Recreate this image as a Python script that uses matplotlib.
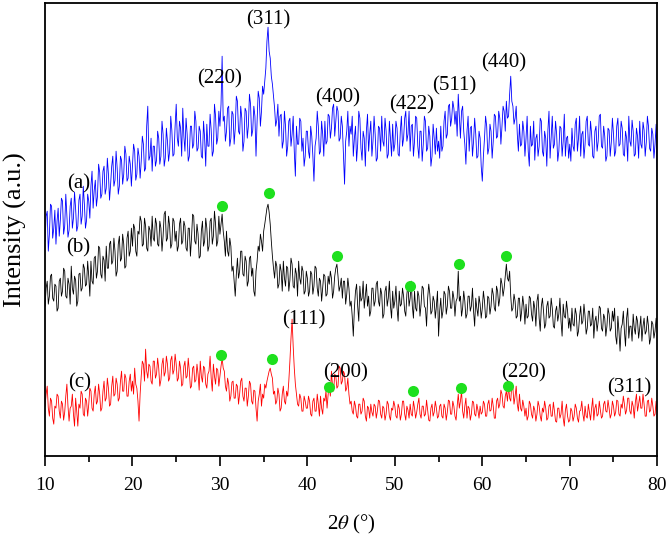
import numpy as np
import matplotlib
matplotlib.use("Agg")
import matplotlib.pyplot as plt
from matplotlib.ticker import MultipleLocator

plt.rcParams['font.family'] = ['Liberation Serif', 'DejaVu Serif']
plt.rcParams['mathtext.fontset'] = 'stix'

# 2-theta sampling: start 10 deg, step 0.125 deg
theta_start = 10.0
theta_step = 0.125

# (a) blue pattern (offset, arbitrary units)
intensity_a = [
    215, 240, 245, 205, 222, 252, 250, 218, 228, 246, 212, 235, 248, 220, 236, 258, 255, 222, 230, 262, 241, 219, 226, 250, 258, 228, 238, 264, 247, 225, 230, 256, 262, 232, 240, 270, 252, 228, 236, 262,
    255, 238, 270, 285, 248, 266, 276, 250, 260, 292, 284, 258, 262, 285, 290, 262, 268, 298, 282, 256, 272, 290, 300, 270, 276, 305, 288, 262, 270, 300, 296, 272, 282, 310, 302, 275, 278, 300, 292, 270,
    290, 312, 305, 276, 282, 308, 300, 278, 295, 320, 312, 285, 288, 330, 350, 296, 300, 318, 285, 310, 310, 290, 296, 325, 318, 292, 300, 335, 322, 290, 298, 328, 315, 295, 305, 340, 326, 300, 302, 330,
    352, 318, 310, 335, 328, 300, 348, 320, 305, 338, 322, 295, 300, 330, 330, 308, 312, 345, 335, 305, 308, 330, 325, 300, 298, 335, 318, 290, 332, 310, 310, 342, 326, 300, 305, 352, 340, 312, 318, 345,
    330, 352, 400, 335, 340, 315, 325, 348, 350, 310, 318, 345, 342, 312, 328, 360, 355, 325, 322, 350, 338, 305, 315, 348, 345, 318, 330, 362, 352, 320, 326, 350, 340, 300, 335, 365, 358, 330, 345, 370,
    362, 375, 388, 415, 429, 405, 398, 380, 372, 360, 348, 330, 336, 352, 320, 340, 342, 308, 315, 345, 330, 300, 310, 335, 338, 310, 322, 340, 305, 280, 330, 312, 312, 338, 335, 305, 318, 290, 300, 325,
    325, 305, 298, 330, 320, 300, 275, 310, 318, 345, 330, 302, 305, 335, 322, 300, 335, 312, 315, 342, 340, 318, 328, 348, 352, 320, 335, 350, 345, 315, 318, 340, 330, 300, 272, 315, 325, 345, 310, 330,
    322, 340, 300, 318, 330, 295, 312, 345, 338, 308, 296, 325, 318, 290, 326, 342, 305, 322, 335, 300, 315, 340, 322, 295, 298, 330, 328, 305, 340, 315, 310, 338, 325, 298, 302, 335, 318, 300, 332, 305,
    312, 335, 328, 302, 300, 325, 340, 310, 318, 338, 345, 315, 322, 345, 305, 330, 332, 300, 315, 340, 338, 310, 298, 325, 325, 295, 312, 340, 335, 305, 308, 330, 320, 290, 300, 332, 318, 302, 328, 305,
    315, 298, 330, 305, 310, 335, 345, 318, 322, 350, 352, 330, 338, 355, 348, 332, 345, 320, 362, 340, 318, 345, 350, 325, 312, 292, 325, 340, 305, 328, 330, 300, 315, 338, 322, 298, 300, 325, 318, 290,
    275, 300, 318, 340, 330, 302, 308, 332, 325, 298, 315, 342, 340, 318, 320, 345, 338, 312, 330, 350, 345, 325, 355, 338, 340, 362, 380, 355, 350, 332, 338, 350, 322, 305, 332, 310, 312, 335, 325, 300,
    318, 340, 305, 290, 330, 310, 312, 335, 296, 318, 322, 300, 310, 338, 335, 305, 300, 325, 318, 290, 326, 345, 298, 320, 340, 308, 312, 335, 322, 295, 305, 330, 328, 300, 315, 342, 300, 318, 320, 298,
    312, 295, 328, 310, 305, 332, 338, 305, 318, 340, 300, 322, 325, 298, 312, 335, 340, 312, 310, 335, 322, 300, 298, 325, 330, 305, 315, 340, 342, 310, 308, 330, 320, 295, 300, 328, 326, 300, 314, 338,
    322, 300, 305, 330, 338, 310, 312, 335, 328, 302, 300, 325, 318, 295, 340, 315, 310, 336, 325, 300, 302, 328, 320, 298, 335, 312, 308, 334, 326, 300, 314, 340, 330, 308, 305, 328, 322, 298, 312, 332,
    272,
]

# (b) black pattern
intensity_b = [
    150, 168, 175, 152, 160, 180, 182, 158, 155, 172, 170, 145, 148, 175, 178, 160, 165, 188, 185, 160, 158, 178, 172, 152, 190, 168, 162, 180, 176, 150, 155, 182, 183, 165, 168, 192, 188, 170, 172, 195,
    180, 160, 195, 175, 172, 198, 200, 178, 185, 210, 208, 182, 178, 200, 196, 175, 210, 188, 188, 212, 215, 192, 195, 218, 205, 180, 185, 212, 220, 195, 198, 222, 212, 188, 190, 218, 225, 200, 205, 228,
    210, 232, 228, 205, 200, 225, 222, 240, 235, 210, 212, 238, 230, 208, 205, 230, 226, 210, 240, 218, 215, 238, 232, 212, 210, 235, 228, 205, 220, 242, 245, 215, 218, 240, 230, 208, 212, 238, 235, 215,
    225, 205, 210, 232, 238, 212, 215, 235, 230, 208, 205, 228, 228, 200, 218, 242, 240, 215, 212, 232, 222, 198, 200, 225, 235, 210, 215, 238, 228, 205, 210, 235, 238, 212, 220, 245, 232, 210, 215, 240,
    222, 232, 242, 225, 215, 200, 225, 205, 200, 218, 210, 185, 190, 175, 160, 182, 198, 178, 185, 205, 205, 182, 180, 200, 195, 170, 175, 198, 200, 180, 188, 165, 160, 185, 195, 210, 205, 222, 215, 205,
    225, 232, 240, 248, 252, 244, 232, 215, 200, 188, 178, 195, 190, 168, 172, 192, 185, 165, 195, 178, 170, 190, 188, 165, 176, 198, 192, 170, 168, 188, 182, 160, 195, 178, 172, 190, 185, 162, 165, 185,
    178, 160, 165, 185, 182, 162, 170, 190, 188, 168, 160, 178, 175, 155, 168, 182, 180, 160, 162, 180, 172, 185, 178, 158, 165, 180, 188, 192, 180, 165, 170, 178, 158, 175, 175, 152, 162, 178, 168, 150,
    155, 140, 120, 148, 165, 172, 150, 135, 170, 155, 158, 175, 148, 160, 172, 150, 160, 140, 145, 168, 168, 150, 155, 172, 175, 155, 150, 168, 162, 138, 142, 165, 170, 150, 158, 175, 150, 138, 165, 148,
    155, 170, 148, 135, 165, 150, 152, 168, 160, 145, 140, 162, 172, 150, 158, 175, 150, 138, 165, 148, 145, 165, 160, 140, 152, 170, 168, 150, 148, 130, 158, 172, 162, 142, 145, 160, 155, 138, 150, 165,
    120, 145, 158, 138, 145, 165, 162, 142, 150, 170, 165, 148, 148, 165, 158, 140, 155, 158, 185, 155, 160, 140, 148, 165, 155, 138, 142, 160, 160, 145, 150, 168, 145, 130, 158, 148, 140, 160, 152, 138,
    148, 165, 155, 138, 140, 160, 158, 142, 150, 168, 162, 148, 145, 170, 165, 150, 158, 178, 172, 160, 168, 180, 192, 178, 175, 185, 160, 145, 148, 162, 155, 138, 140, 158, 158, 135, 145, 160, 150, 132,
    152, 138, 140, 160, 158, 142, 135, 155, 148, 130, 155, 162, 138, 125, 150, 158, 145, 128, 132, 150, 155, 138, 140, 158, 148, 130, 128, 145, 150, 135, 142, 158, 135, 120, 152, 140, 138, 155, 145, 128,
    138, 125, 148, 132, 130, 148, 142, 120, 125, 140, 150, 132, 135, 152, 140, 122, 128, 145, 145, 130, 132, 148, 118, 135, 140, 125, 135, 150, 148, 128, 125, 142, 138, 120, 130, 148, 142, 125, 128, 145,
    135, 148, 120, 112, 140, 125, 105, 128, 132, 145, 125, 110, 138, 148, 118, 130, 130, 115, 142, 128, 122, 140, 135, 118, 128, 140, 115, 130, 138, 122, 125, 140, 130, 112, 118, 135, 132, 118, 125, 138,
    128,
]

# (c) red pattern
intensity_c = [
    50, 62, 70, 48, 40, 58, 55, 38, 32, 50, 48, 62, 60, 45, 38, 55, 52, 36, 44, 60, 72, 50, 35, 48, 50, 62, 42, 30, 58, 45, 30, 52, 48, 65, 62, 42, 40, 58, 55, 40,
    52, 68, 65, 48, 45, 62, 70, 52, 55, 72, 62, 45, 48, 65, 75, 55, 58, 78, 68, 50, 52, 70, 80, 60, 62, 78, 72, 55, 58, 75, 85, 65, 65, 82, 78, 60, 60, 75, 82, 65,
    75, 62, 88, 72, 68, 55, 35, 62, 80, 95, 92, 75, 107, 85, 78, 92, 90, 75, 72, 95, 95, 78, 82, 98, 88, 70, 76, 92, 98, 80, 84, 100, 92, 75, 78, 96, 100, 82, 86, 102,
    92, 75, 78, 95, 88, 70, 72, 90, 95, 78, 80, 98, 85, 68, 70, 88, 90, 74, 76, 92, 82, 66, 95, 80, 74, 90, 88, 72, 68, 82, 85, 100, 78, 65, 92, 80, 72, 88, 86, 70,
    80, 90, 98, 88, 85, 70, 65, 78, 72, 55, 60, 74, 75, 58, 58, 72, 70, 52, 62, 75, 78, 60, 55, 68, 68, 50, 60, 75, 72, 55, 52, 66, 65, 48, 35, 55, 62, 72, 50, 62,
    58, 72, 68, 75, 80, 85, 88, 82, 78, 62, 65, 52, 55, 68, 62, 45, 48, 62, 70, 55, 52, 65, 60, 75, 95, 118, 137, 110, 88, 72, 62, 52, 50, 62, 58, 45, 45, 60, 55, 48,
    48, 60, 55, 42, 40, 55, 58, 45, 45, 62, 52, 40, 60, 48, 42, 58, 55, 65, 48, 62, 72, 60, 85, 70, 65, 82, 80, 68, 70, 90, 88, 72, 75, 85, 82, 65, 68, 78, 62, 52,
    55, 45, 42, 55, 50, 40, 38, 52, 52, 42, 45, 58, 55, 40, 35, 50, 48, 38, 52, 44, 40, 52, 50, 38, 45, 56, 55, 42, 38, 50, 48, 36, 42, 55, 52, 40, 36, 48, 46, 55,
    50, 40, 38, 52, 48, 36, 42, 55, 55, 42, 36, 50, 46, 38, 52, 42, 40, 55, 48, 38, 44, 52, 58, 42, 38, 50, 50, 40, 42, 56, 46, 36, 35, 48, 52, 40, 44, 55, 48, 38,
    40, 50, 52, 40, 38, 52, 48, 36, 44, 56, 55, 42, 42, 55, 50, 40, 36, 50, 62, 48, 55, 65, 45, 38, 50, 58, 38, 50, 48, 36, 42, 55, 54, 42, 40, 52, 46, 38, 50, 42,
    44, 55, 52, 40, 40, 52, 56, 45, 46, 58, 50, 38, 38, 55, 58, 48, 52, 66, 62, 50, 48, 60, 65, 55, 70, 58, 55, 72, 68, 52, 60, 70, 52, 45, 62, 48, 45, 56, 50, 40,
    48, 36, 40, 55, 52, 42, 38, 50, 46, 35, 42, 55, 50, 40, 35, 48, 44, 55, 48, 36, 38, 50, 52, 40, 40, 54, 45, 35, 34, 48, 48, 38, 42, 55, 38, 30, 46, 52, 40, 34,
    36, 48, 45, 35, 40, 52, 48, 38, 34, 45, 46, 55, 42, 35, 50, 40, 38, 52, 44, 36, 48, 58, 36, 48, 52, 40, 42, 55, 46, 38, 40, 52, 55, 45, 44, 56, 48, 38, 42, 55,
    50, 40, 44, 56, 55, 42, 40, 52, 48, 60, 52, 42, 46, 58, 58, 45, 42, 55, 50, 38, 54, 62, 45, 52, 60, 48, 48, 62, 52, 40, 40, 55, 56, 44, 46, 58, 50, 40, 42, 55,
    45,
]

assert len(intensity_a) == len(intensity_b) == len(intensity_c) == 561, (
    len(intensity_a), len(intensity_b), len(intensity_c))
two_theta = theta_start + theta_step * np.arange(len(intensity_a))

# green markers (phase reflections)
dots_b_x = [30.24, 35.62, 43.4, 51.75, 57.35, 62.73]
dots_b_y = [250, 263, 200, 170, 192, 200]
dots_c_x = [30.13, 35.96, 42.48, 52.09, 57.58, 62.96]
dots_c_y = [101, 97, 69, 65, 68, 70]

# peak labels
labels_a = ["(220)", "(311)", "(400)", "(422)", "(511)", "(440)"]
labels_a_x = [30.0, 35.5, 43.4, 51.9, 56.8, 62.5]
labels_a_y = [377, 436, 358, 351, 370, 393]
labels_c = ["(111)", "(200)", "(220)", "(311)"]
labels_c_x = [39.6, 44.4, 64.7, 76.8]
labels_c_y = [136, 83, 83, 68]

fig = plt.figure(figsize=(6.72, 5.36), dpi=100)
ax = fig.add_axes([0.067, 0.149, 0.911, 0.845])

ax.plot(two_theta, intensity_a, color='#0000ff', lw=0.6)
ax.plot(two_theta, intensity_b, color='#000000', lw=0.6)
ax.plot(two_theta, intensity_c, color='#ff0000', lw=0.6)

ax.plot(dots_b_x, dots_b_y, 'o', color='#1ee01e', ms=8, mec='none')
ax.plot(dots_c_x, dots_c_y, 'o', color='#1ee01e', ms=8, mec='none')

fs = 15
for t, x, y in zip(labels_a, labels_a_x, labels_a_y):
    ax.text(x, y, t, ha='center', va='center', fontsize=fs)
for t, x, y in zip(labels_c, labels_c_x, labels_c_y):
    ax.text(x, y, t, ha='center', va='center', fontsize=fs)

ax.text(13.8, 272, "(a)", ha='center', va='center', fontsize=fs)
ax.text(13.8, 208, "(b)", ha='center', va='center', fontsize=fs)
ax.text(14.0, 73, "(c)", ha='center', va='center', fontsize=fs)

ax.set_xlim(10, 80)
ax.set_ylim(0, 453)
ax.xaxis.set_major_locator(MultipleLocator(10))
ax.xaxis.set_minor_locator(MultipleLocator(5))
ax.tick_params(axis='x', which='major', direction='out', length=7, width=1.2,
               labelsize=14, pad=8, top=False)
ax.tick_params(axis='x', which='minor', direction='out', length=4.5, width=1.2, top=False)
ax.set_yticks([])
for s in ax.spines.values():
    s.set_linewidth(1.3)

ax.set_xlabel(r"2$\theta$ (°)", fontsize=15, labelpad=14)
ax.set_ylabel("Intensity (a.u.)", fontsize=19)
ax.yaxis.set_label_coords(-0.03, 0.5)

fig.savefig("out.png", dpi=100)
